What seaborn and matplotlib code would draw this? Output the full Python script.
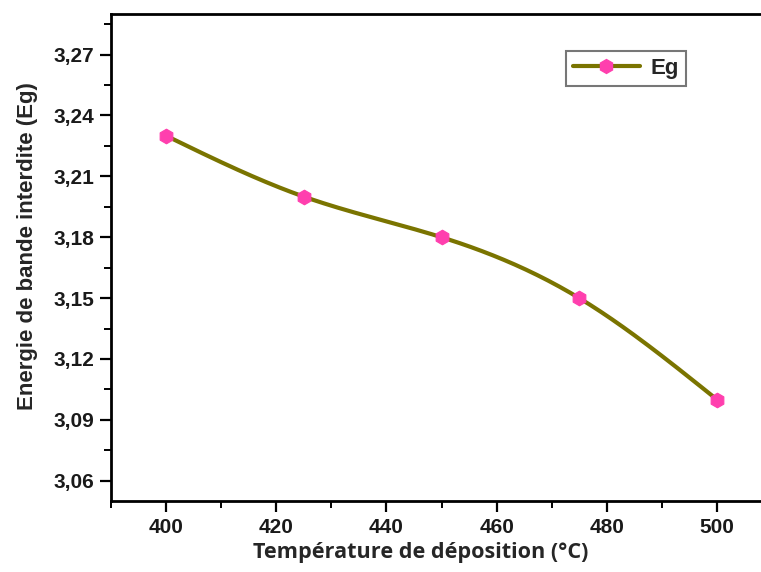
import numpy as np
import pandas as pd
import seaborn as sns
import matplotlib
matplotlib.use("Agg")
import matplotlib.pyplot as plt
from matplotlib.ticker import FuncFormatter, MultipleLocator

temperature = [400, 425, 450, 475, 500]
eg = [3.23, 3.20, 3.18, 3.15, 3.10]
x_ticks = [400, 420, 440, 460, 480, 500]
y_ticks = [3.06, 3.09, 3.12, 3.15, 3.18, 3.21, 3.24, 3.27]

df = pd.DataFrame({"T": temperature, "Eg": eg})


def natural_spline(x, y, n=200):
    # smooth curve through the points, like Origin's spline connector
    x = np.asarray(x, float)
    y = np.asarray(y, float)
    k = len(x)
    h = np.diff(x)
    A = np.zeros((k, k))
    b = np.zeros(k)
    A[0, 0] = A[-1, -1] = 1
    for i in range(1, k - 1):
        A[i, i - 1] = h[i - 1]
        A[i, i] = 2 * (h[i - 1] + h[i])
        A[i, i + 1] = h[i]
        b[i] = 6 * ((y[i + 1] - y[i]) / h[i] - (y[i] - y[i - 1]) / h[i - 1])
    m = np.linalg.solve(A, b)
    xs = np.linspace(x[0], x[-1], n)
    idx = np.clip(np.searchsorted(x, xs) - 1, 0, k - 2)
    t = xs - x[idx]
    hi = h[idx]
    a = (m[idx + 1] - m[idx]) / (6 * hi)
    c = (y[idx + 1] - y[idx]) / hi - hi * (2 * m[idx] + m[idx + 1]) / 6
    ys = y[idx] + c * t + m[idx] / 2 * t ** 2 + a * t ** 3
    return xs, ys


sns.set_theme(style="ticks")
plt.rcParams["font.family"] = ["Liberation Sans", "DejaVu Sans"]

fig = plt.figure(figsize=(7.61, 5.72), dpi=100)
ax = fig.add_axes([0.1459, 0.1241, 0.8686, 0.8514])

line_color = "#7a7400"
marker_color = "#ff3fae"

xs, ys = natural_spline(df["T"], df["Eg"])
sns.lineplot(x=xs, y=ys, ax=ax, color=line_color, linewidth=3, zorder=2)
sns.scatterplot(data=df, x="T", y="Eg", ax=ax, color=marker_color, marker="h",
                s=110, edgecolor=marker_color, zorder=3)

# legend handle
ax.plot([], [], color=line_color, linewidth=3, marker="h", markersize=10,
        markerfacecolor=marker_color, markeredgecolor=marker_color, label="Eg")
leg = ax.legend(loc="upper left", bbox_to_anchor=(0.672, 0.946), frameon=True,
                fancybox=False, prop={"weight": "bold", "size": 16},
                handlelength=3, borderpad=0.3, handletextpad=0.5)
leg.get_frame().set_edgecolor("#555555")
leg.get_frame().set_linewidth(1.5)

ax.set_xlim(390, 510)
ax.set_ylim(3.05, 3.29)
ax.set_xticks(x_ticks)
ax.set_yticks(y_ticks)
ax.xaxis.set_minor_locator(MultipleLocator(10))
ax.yaxis.set_minor_locator(MultipleLocator(0.015))
ax.yaxis.set_major_formatter(FuncFormatter(lambda v, p: f"{v:.2f}".replace(".", ",")))

for s in ["left", "bottom", "top"]:
    ax.spines[s].set_linewidth(2)
    ax.spines[s].set_color("black")
ax.spines["right"].set_visible(False)

ax.tick_params(which="major", direction="out", length=8, width=1.6,
               labelsize=15, colors="black", pad=4)
ax.tick_params(which="minor", direction="out", length=5, width=1.4, colors="black")
for lab in ax.get_xticklabels() + ax.get_yticklabels():
    lab.set_fontweight("bold")
    lab.set_color("#1a1a1a")

ax.set_xlabel("Température de déposition (°C)", fontsize=15.6, fontweight="bold",
              family=["Open Sans", "DejaVu Sans"])
ax.set_ylabel("Energie de bande interdite (Eg)", fontsize=16, fontweight="bold")
ax.xaxis.set_label_coords(0.469, -0.084)
ax.yaxis.set_label_coords(-0.11, 0.5226)

fig.savefig("out.png", dpi=100)
